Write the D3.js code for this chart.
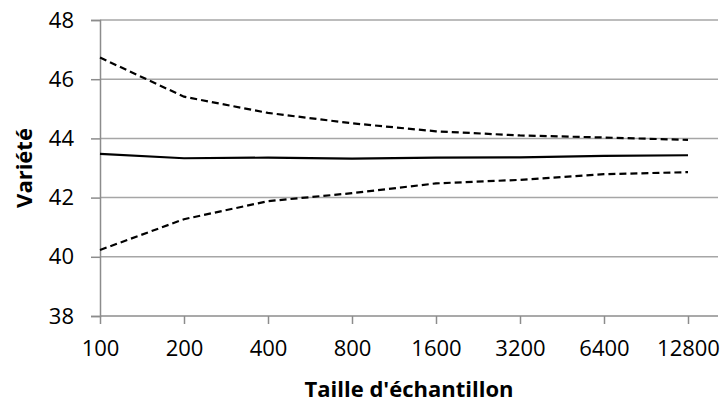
<!DOCTYPE html>
<html><head><meta charset="utf-8">
<script src="https://cdn.jsdelivr.net/npm/d3@7"></script>
<style>body{margin:0;background:#fff;} svg{display:block;}</style>
</head><body>
<script>
const categories = ["100","200","400","800","1600","3200","6400","12800"];
const meanValues = [43.48,43.33,43.35,43.32,43.35,43.36,43.41,43.43];
const upperValues = [46.73,45.41,44.86,44.51,44.24,44.10,44.03,43.95];
const lowerValues = [40.23,41.27,41.88,42.15,42.48,42.60,42.79,42.86];
const yTicks = [38,40,42,44,46,48];
const xTitle = "Taille d'échantillon";
const yTitle = "Variété";

const W = 725, H = 403;
const svg = d3.select("body").append("svg").attr("width", W).attr("height", H);
const font = "'Open Sans', sans-serif";

const x = d3.scalePoint().domain(categories).range([100, 688]);
const y = d3.scaleLinear().domain([38, 48]).range([316, 20]);
const plotRight = 718;

// gridlines
svg.append("g").selectAll("line").data(yTicks.slice(1)).join("line")
  .attr("x1", 100).attr("x2", plotRight)
  .attr("y1", d => y(d)).attr("y2", d => y(d))
  .attr("stroke", "#a6a6a6").attr("stroke-width", 1.5);

// y axis
const yAxis = svg.append("g").attr("transform", "translate(100,0)")
  .call(d3.axisLeft(y).tickValues(yTicks).tickSize(9).tickPadding(17));
yAxis.select(".domain").attr("stroke", "#8c8c8c").attr("stroke-width", 1.5);
yAxis.selectAll(".tick line").attr("stroke", "#8c8c8c").attr("stroke-width", 1.5);
yAxis.selectAll("text").attr("font-family", font).attr("font-size", 22).attr("fill", "#000");

// x axis
const xAxis = svg.append("g").attr("transform", "translate(0,316)")
  .call(d3.axisBottom(x).tickSize(8).tickPadding(16).tickSizeOuter(0));
xAxis.select(".domain").attr("d", `M100,0H${plotRight}`).attr("stroke", "#8c8c8c").attr("stroke-width", 1.5);
xAxis.selectAll(".tick line").attr("stroke", "#8c8c8c").attr("stroke-width", 1.5);
xAxis.selectAll("text").attr("font-family", font).attr("font-size", 22).attr("fill", "#000");

const line = d3.line().x((d, i) => x(categories[i])).y(d => y(d));
svg.append("path").datum(upperValues).attr("d", line)
  .attr("fill", "none").attr("stroke", "#000").attr("stroke-width", 2.2).attr("stroke-dasharray", "7,4");
svg.append("path").datum(lowerValues).attr("d", line)
  .attr("fill", "none").attr("stroke", "#000").attr("stroke-width", 2.2).attr("stroke-dasharray", "7,4");
svg.append("path").datum(meanValues).attr("d", line)
  .attr("fill", "none").attr("stroke", "#000").attr("stroke-width", 2.2);

svg.append("text").attr("x", 409).attr("y", 397).attr("text-anchor", "middle")
  .attr("font-family", font).attr("font-weight", "bold").attr("font-size", 22).text(xTitle);
svg.append("text").attr("transform", "translate(32,168) rotate(-90)").attr("text-anchor", "middle")
  .attr("font-family", font).attr("font-weight", "bold").attr("font-size", 22).text(yTitle);
</script>
</body></html>
